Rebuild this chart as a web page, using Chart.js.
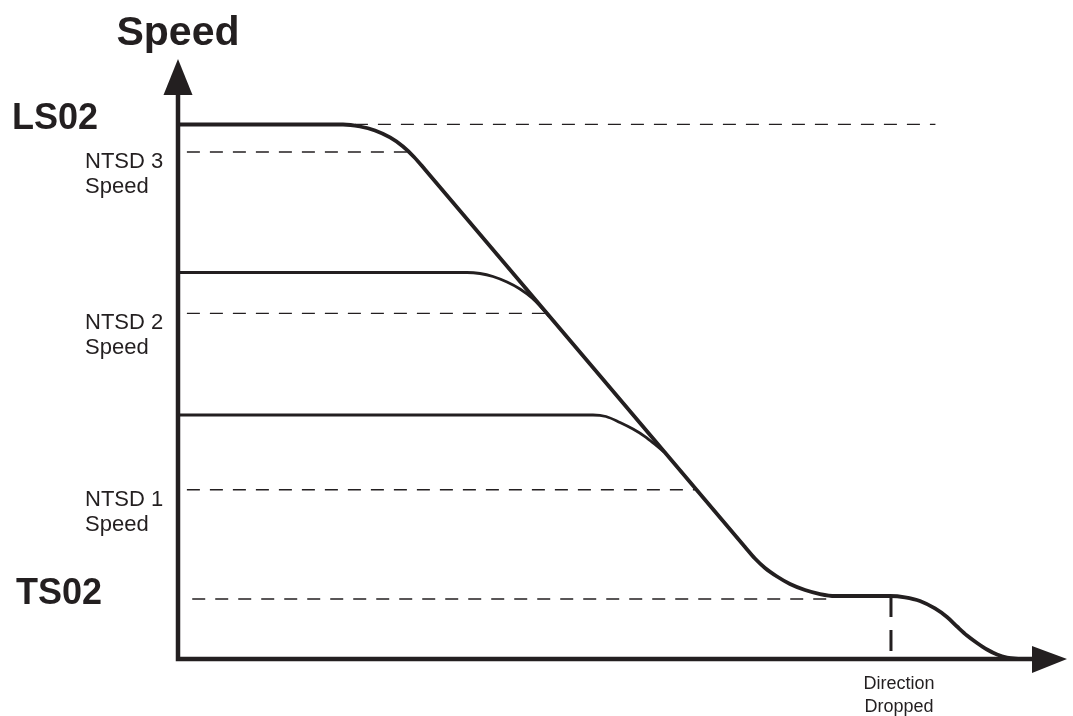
<!DOCTYPE html>
<html>
<head>
<meta charset="utf-8">
<title>Speed profile</title>
<script src="https://cdn.jsdelivr.net/npm/chart.js@4/dist/chart.umd.min.js"></script>
<style>
  html, body { margin: 0; padding: 0; background: #fff; }
  #wrap { width: 1073px; height: 716px; }
</style>
</head>
<body>
<div id="wrap"><canvas id="speedChart" width="1073" height="716"></canvas></div>
<script>
// Main slowdown curve (distance, speed)
const mainX = [0, 18.56, 20.47, 22.16, 23.85, 25.31, 26.55, 27.78, 63.78, 64.90, 66.03, 67.38, 68.84, 70.53, 72.22, 73.90,
  80.09, 81.78, 83.46, 85.15, 86.50, 87.63, 88.75, 89.88, 91.00, 92.13, 93.25, 94.71];
const mainY = [89.08, 89.08, 88.75, 88.08, 86.92, 85.42, 83.67, 81.58, 18.67, 16.75, 15.17, 13.75, 12.5, 11.5, 10.83, 10.5,
  10.5, 10.28, 9.67, 8.42, 7.0, 5.42, 3.92, 2.67, 1.58, 0.75, 0.25, 0];

// Entry at lower speeds, merging into the slope
const level2X = [0, 32.51, 33.97, 35.43, 37.01, 38.47, 39.82, 40.94, 41.73];
const level2Y = [64.42, 64.42, 64.25, 63.75, 62.83, 61.67, 60.17, 58.5, 57.17];
const level1X = [0, 46.68, 48.14, 49.72, 51.18, 52.53, 53.66, 54.67];
const level1Y = [40.67, 40.67, 40.42, 39.42, 38.33, 37.08, 35.75, 34.5];

// Dashed reference speeds
const refNames = ["LS02", "NTSD 3", "NTSD 2", "NTSD 1", "TS02"];
const refSpeed = [89.1, 84.5, 57.6, 28.2, 10.0];
const refFrom = [19.9, 1.0, 1.0, 1.0, 1.6];
const refTo = [85.2, 25.8, 41.3, 58.2, 73.3];

// Direction dropped marker
const dropX = 80.2;
const dropY = [10.5, 1.2];

const ink = "#231f20";
const font = "'Liberation Sans', Arial, Helvetica, sans-serif";

function pts(xs, ys) {
  return xs.map((x, i) => ({ x: x, y: ys[i] }));
}

const datasets = [];

refSpeed.forEach((s, i) => {
  datasets.push({
    label: refNames[i],
    data: [{ x: refFrom[i], y: s }, { x: refTo[i], y: s }],
    borderColor: ink,
    borderWidth: 1.4,
    borderDash: [13, 10],
    pointRadius: 0
  });
});

datasets.push({
  label: "Direction Dropped",
  data: [{ x: dropX, y: dropY[0] }, { x: dropX, y: dropY[1] }],
  borderColor: ink,
  borderWidth: 3,
  borderDash: [21, 13],
  pointRadius: 0
});

datasets.push({
  label: "level2",
  data: pts(level2X, level2Y),
  borderColor: ink,
  borderWidth: 2.8,
  pointRadius: 0,
  cubicInterpolationMode: "monotone"
});

datasets.push({
  label: "level1",
  data: pts(level1X, level1Y),
  borderColor: ink,
  borderWidth: 2.8,
  pointRadius: 0,
  cubicInterpolationMode: "monotone"
});

datasets.push({
  label: "main",
  data: pts(mainX, mainY),
  borderColor: ink,
  borderWidth: 3.8,
  pointRadius: 0,
  cubicInterpolationMode: "monotone"
});

// Axes with arrow heads and text labels
const diagram = {
  id: "diagram",
  afterDatasetsDraw(chart) {
    const ctx = chart.ctx;
    const xs = chart.scales.x, ys = chart.scales.y;
    const ox = xs.getPixelForValue(0), oy = ys.getPixelForValue(0);
    const top = ys.getPixelForValue(100), right = xs.getPixelForValue(100);
    ctx.save();
    ctx.strokeStyle = ink;
    ctx.fillStyle = ink;
    ctx.lineWidth = 4.5;
    ctx.lineCap = "butt";
    ctx.lineJoin = "miter";
    ctx.beginPath();
    ctx.moveTo(ox, top + 30);
    ctx.lineTo(ox, oy);
    ctx.lineTo(right - 30, oy);
    ctx.stroke();
    // y arrow
    ctx.beginPath();
    ctx.moveTo(ox, top);
    ctx.lineTo(ox - 14.5, top + 36);
    ctx.lineTo(ox + 14.5, top + 36);
    ctx.closePath();
    ctx.fill();
    // x arrow
    ctx.beginPath();
    ctx.moveTo(right, oy);
    ctx.lineTo(right - 35, oy - 13);
    ctx.lineTo(right - 35, oy + 14);
    ctx.closePath();
    ctx.fill();

    ctx.textBaseline = "alphabetic";
    ctx.textAlign = "center";
    ctx.font = "bold 41px " + font;
    ctx.fillText("Speed", ox, 45);

    ctx.textAlign = "left";
    refNames.forEach((n, i) => {
      const py = ys.getPixelForValue(refSpeed[i]);
      if (n.indexOf("NTSD") === 0) {
        ctx.font = "22px " + font;
        ctx.fillText(n, 85, py + 16);
        ctx.fillText("Speed", 85, py + 41);
      } else {
        ctx.font = "bold 36px " + font;
        ctx.fillText(n, n === "LS02" ? 12 : 16, py + 5);
      }
    });

    ctx.textAlign = "center";
    ctx.font = "18px " + font;
    const dx = xs.getPixelForValue(dropX) + 8;
    ctx.fillText("Direction", dx, oy + 30);
    ctx.fillText("Dropped", dx, oy + 53);
    ctx.restore();
  }
};

new Chart(document.getElementById("speedChart"), {
  type: "line",
  data: { datasets: datasets },
  options: {
    responsive: false,
    animation: false,
    layout: { padding: { left: 178, right: 6, top: 59, bottom: 57 } },
    scales: {
      x: { type: "linear", min: 0, max: 100, display: false },
      y: { type: "linear", min: 0, max: 100, display: false }
    },
    plugins: {
      legend: { display: false },
      tooltip: { enabled: false }
    }
  },
  plugins: [diagram]
});
</script>
</body>
</html>
